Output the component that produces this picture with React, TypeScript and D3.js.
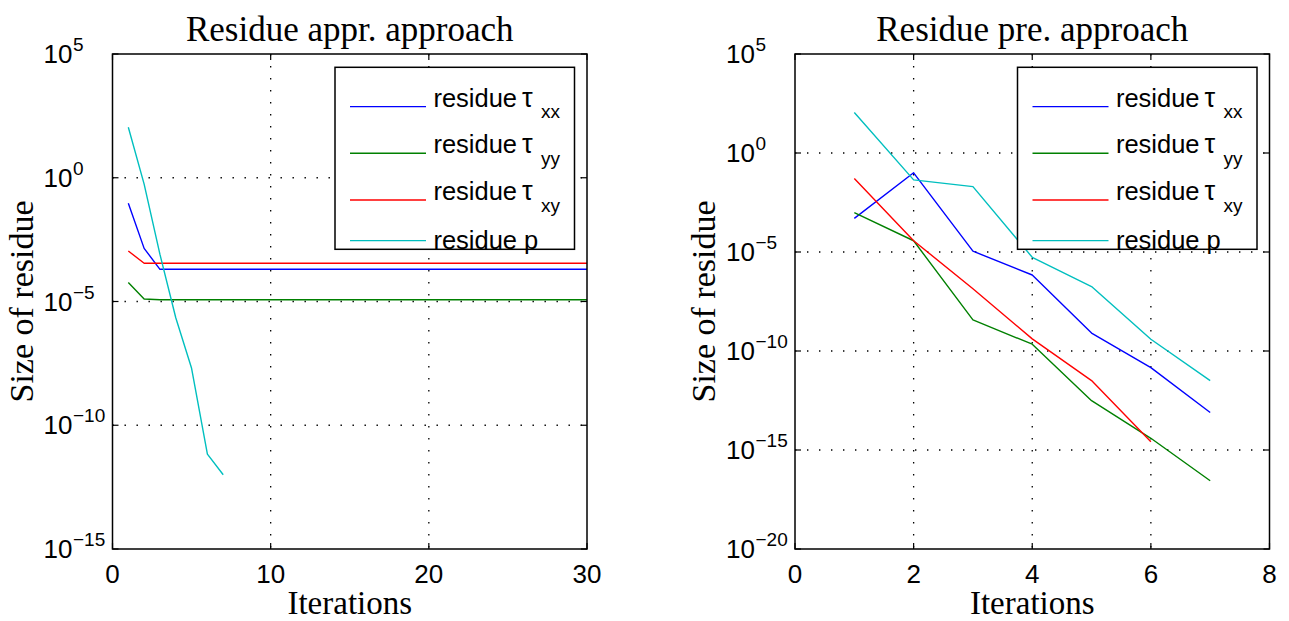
import React from "react";
import * as d3 from "d3";

// ---------- data ----------
const iterLeft = d3.range(1, 31);
const leftTauXX = [9.3e-2, 1.4e-3, 2.0e-4, 2.0e-4, 2.0e-4, 2.0e-4, 2.0e-4, 2.0e-4, 2.0e-4, 2.0e-4,
  2.0e-4, 2.0e-4, 2.0e-4, 2.0e-4, 2.0e-4, 2.0e-4, 2.0e-4, 2.0e-4, 2.0e-4, 2.0e-4,
  2.0e-4, 2.0e-4, 2.0e-4, 2.0e-4, 2.0e-4, 2.0e-4, 2.0e-4, 2.0e-4, 2.0e-4, 2.0e-4];
const leftTauYY = [5.8e-5, 1.26e-5, 1.17e-5, 1.17e-5, 1.17e-5, 1.17e-5, 1.17e-5, 1.17e-5, 1.17e-5, 1.17e-5,
  1.17e-5, 1.17e-5, 1.17e-5, 1.17e-5, 1.17e-5, 1.17e-5, 1.17e-5, 1.17e-5, 1.17e-5, 1.17e-5,
  1.17e-5, 1.17e-5, 1.17e-5, 1.17e-5, 1.17e-5, 1.17e-5, 1.17e-5, 1.17e-5, 1.17e-5, 1.17e-5];
const leftTauXY = [1.1e-3, 3.5e-4, 3.5e-4, 3.5e-4, 3.5e-4, 3.5e-4, 3.5e-4, 3.5e-4, 3.5e-4, 3.5e-4,
  3.5e-4, 3.5e-4, 3.5e-4, 3.5e-4, 3.5e-4, 3.5e-4, 3.5e-4, 3.5e-4, 3.5e-4, 3.5e-4,
  3.5e-4, 3.5e-4, 3.5e-4, 3.5e-4, 3.5e-4, 3.5e-4, 3.5e-4, 3.5e-4, 3.5e-4, 3.5e-4];
const leftP = [1.1e2, 5.5e-1, 8.0e-4, 2.2e-6, 2.0e-8, 6.8e-12, 1.0e-12];

const iterRight = [1, 2, 3, 4, 5, 6, 7];
const rightTauXX = [5.0e-4, 1.0e-1, 1.1e-5, 6.9e-7, 8.0e-10, 1.45e-11, 7.8e-14];
const rightTauYY = [9.8e-4, 3.7e-5, 3.7e-9, 2.2e-10, 3.1e-13, 3.9e-15, 2.8e-17];
const rightTauXY = [5.2e-2, 3.7e-5, 1.4e-7, 4.1e-10, 3.2e-12, 2.6e-15];
const rightP = [1.1e2, 4.4e-2, 2.0e-2, 5.4e-6, 1.8e-7, 3.9e-10, 3.2e-12];

const legendNames = ["residue", "residue", "residue", "residue p"];
const legendGreek = ["τ", "τ", "τ", ""];
const legendSubs = ["xx", "yy", "xy", ""];
const colors = ["#0000ff", "#008000", "#ff0000", "#00bfbf"];

const leftXTicks = [0, 10, 20, 30];
const leftYTickExps = [5, 0, -5, -10, -15];
const rightXTicks = [0, 2, 4, 6, 8];
const rightYTickExps = [5, 0, -5, -10, -15, -20];

const titles = ["Residue appr. approach", "Residue pre. approach"];
const xLabel = "Iterations";
const yLabel = "Size of residue";

// ---------- component ----------
const SANS = "'Liberation Sans', Arial, Helvetica, sans-serif";
const SERIF = "'Liberation Serif', 'Times New Roman', serif";

type PanelProps = {
  left: number; right: number; top: number; bottom: number;
  xMax: number; xTicks: number[]; yExps: number[];
  title: string; iters: number[][]; series: number[][];
};

function Panel(p: PanelProps) {
  const x = d3.scaleLinear().domain([0, p.xMax]).range([p.left, p.right]);
  const yMin = Math.pow(10, d3.min(p.yExps)!);
  const yMax = Math.pow(10, d3.max(p.yExps)!);
  const y = d3.scaleLog().domain([yMin, yMax]).range([p.bottom, p.top]);
  const tickLen = 6;
  const gridDash = "1.4 10.6";
  const legX = p.right - 252;
  const legY = p.top + 13.3;
  const legW = 239.5;
  const legH = 182;
  const rowBase = [39.3, 86, 132.7, 182];
  const rowLine = [39.3, 86, 132.7, 173.3];

  return (
    <g>
      <text x={(p.left + p.right) / 2} y={41} textAnchor="middle" fontFamily={SERIF} fontSize={35} fill="#000">{p.title}</text>
      {/* grid */}
      {p.xTicks.filter(t => t !== 0 && t !== p.xMax).map(t => (
        <line key={"gx" + t} x1={x(t)} x2={x(t)} y1={p.top} y2={p.bottom} stroke="#000" strokeWidth={1.3} strokeDasharray={gridDash} />
      ))}
      {p.yExps.filter(e => Math.pow(10, e) !== yMin && Math.pow(10, e) !== yMax).map(e => (
        <line key={"gy" + e} x1={p.left} x2={p.right} y1={y(Math.pow(10, e))} y2={y(Math.pow(10, e))} stroke="#000" strokeWidth={1.3} strokeDasharray={gridDash} />
      ))}
      {/* data */}
      {p.series.map((s, i) => {
        const line = d3.line<number>().x((_, j) => x(p.iters[i][j])).y(v => y(v));
        return <path key={"s" + i} d={line(s)!} fill="none" stroke={colors[i]} strokeWidth={1.4} strokeLinejoin="round" />;
      })}
      {/* ticks */}
      {p.xTicks.map(t => (
        <g key={"tx" + t}>
          <line x1={x(t)} x2={x(t)} y1={p.bottom} y2={p.bottom - tickLen} stroke="#000" strokeWidth={1.2} />
          <line x1={x(t)} x2={x(t)} y1={p.top} y2={p.top + tickLen} stroke="#000" strokeWidth={1.2} />
          <text x={x(t)} y={582.5} textAnchor="middle" fontFamily={SANS} fontSize={26} fill="#000">{t}</text>
        </g>
      ))}
      {p.yExps.map(e => {
        const yy = y(Math.pow(10, e));
        const sup = e < 0 ? "\u2212" + Math.abs(e) : String(e);
        return (
          <g key={"ty" + e}>
            <line x1={p.left} x2={p.left + tickLen} y1={yy} y2={yy} stroke="#000" strokeWidth={1.2} />
            <line x1={p.right} x2={p.right - tickLen} y1={yy} y2={yy} stroke="#000" strokeWidth={1.2} />
            <text x={p.left - 69} y={yy + 9.2} fontFamily={SANS} fontSize={26} fill="#000">10</text>
            <text x={p.left - 39.5} y={yy - 2.8} fontFamily={SANS} fontSize={19} fill="#000">{sup}</text>
          </g>
        );
      })}
      {/* frame */}
      <rect x={p.left} y={p.top} width={p.right - p.left} height={p.bottom - p.top} fill="none" stroke="#000" strokeWidth={1.5} />
      {/* axis labels */}
      <text x={(p.left + p.right) / 2} y={613.5} textAnchor="middle" fontFamily={SERIF} fontSize={33} fill="#000">{xLabel}</text>
      <text transform={`translate(${p.left - 80},${(p.top + p.bottom) / 2}) rotate(-90)`} textAnchor="middle" fontFamily={SERIF} fontSize={34} fill="#000">{yLabel}</text>
      {/* legend */}
      <rect x={legX} y={legY} width={legW} height={legH} fill="#fff" stroke="#000" strokeWidth={1.5} />
      {legendNames.map((n, i) => (
        <g key={"lg" + i}>
          <line x1={legX + 15} x2={legX + 91} y1={legY + rowLine[i]} y2={legY + rowLine[i]} stroke={colors[i]} strokeWidth={1.4} />
          <text x={legX + 98.4} y={legY + rowBase[i]} fontFamily={SANS} fontSize={25.5} fill="#000">{n}</text>
          {legendGreek[i] ? (
            <text x={legX + 187} y={legY + rowBase[i]} fontFamily={SANS} fontSize={27} fill="#000">{legendGreek[i]}</text>
          ) : null}
          {legendSubs[i] ? (
            <text x={legX + 206} y={legY + rowBase[i] + 11.7} fontFamily={SANS} fontSize={19} fill="#000">{legendSubs[i]}</text>
          ) : null}
        </g>
      ))}
    </g>
  );
}

export default function App() {
  return (
    <svg width={1289} height={621} style={{ position: "absolute", left: 0, top: 0, background: "#fff" }}>
      <rect width={1289} height={621} fill="#fff" />
      <Panel left={112.5} right={587} top={54} bottom={549} xMax={30} xTicks={leftXTicks} yExps={leftYTickExps}
        title={titles[0]}
        iters={[iterLeft, iterLeft, iterLeft, iterLeft.slice(0, leftP.length)]}
        series={[leftTauXX, leftTauYY, leftTauXY, leftP]} />
      <Panel left={795} right={1269.5} top={54} bottom={549} xMax={8} xTicks={rightXTicks} yExps={rightYTickExps}
        title={titles[1]}
        iters={[iterRight, iterRight, iterRight.slice(0, rightTauXY.length), iterRight]}
        series={[rightTauXX, rightTauYY, rightTauXY, rightP]} />
    </svg>
  );
}
